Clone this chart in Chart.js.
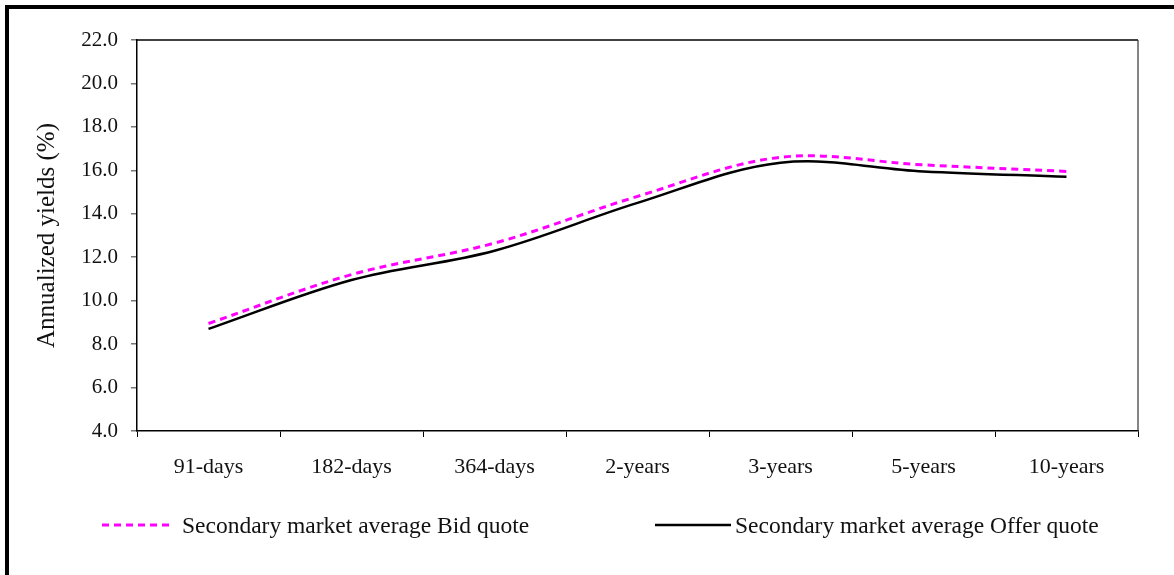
<!DOCTYPE html>
<html>
<head>
<meta charset="utf-8">
<script src="https://cdn.jsdelivr.net/npm/chart.js@4.4.1/dist/chart.umd.min.js"></script>
<style>
  html, body { margin: 0; padding: 0; background: #fff; overflow: hidden; }
  #wrap { position: absolute; left: 0; top: 0; width: 1174px; height: 575px; }
  #yieldChart { position: absolute; left: 0; top: 0; }
  .frame { position: absolute; background: #000; }
  #frameTop { left: 5px; top: 5px; width: 1169px; height: 4px; }
  #frameLeft { left: 5px; top: 5px; width: 4px; height: 570px; }
</style>
</head>
<body>
<div id="wrap">
  <canvas id="yieldChart" width="1174" height="575"></canvas>
  <div id="frameTop" class="frame"></div>
  <div id="frameLeft" class="frame"></div>
</div>
<script>
// Tenors along the curve
const tenors = ['91-days', '182-days', '364-days', '2-years', '3-years', '5-years', '10-years'];

// Annualized yields (%) by tenor
const bidYields   = [8.95, 11.2, 12.65, 14.8, 16.6, 16.25, 15.95];
const offerYields = [8.7, 10.95, 12.3, 14.5, 16.35, 15.95, 15.7];

// Series names
const seriesNames = ['Secondary market average Bid quote', 'Secondary market average Offer quote'];

// Value axis range
const yAxisMin = 4;
const yAxisMax = 22;
const yAxisStep = 2;
const yAxisTitle = 'Annualized yields (%)';

const serif = '"Liberation Serif", "Times New Roman", serif';

// Closes the plot area with top and right edges
const plotFrame = {
  id: 'plotFrame',
  beforeDatasetsDraw(chart) {
    const { ctx, chartArea: a } = chart;
    ctx.save();
    ctx.strokeStyle = '#000';
    ctx.lineWidth = 1.5;
    ctx.beginPath();
    ctx.moveTo(a.left, a.top);
    ctx.lineTo(a.right, a.top);
    ctx.stroke();
    ctx.strokeStyle = '#333';
    ctx.lineWidth = 1.2;
    ctx.beginPath();
    ctx.moveTo(a.right, a.top);
    ctx.lineTo(a.right, a.bottom);
    ctx.stroke();
    ctx.restore();
  }
};

// Legend row under the axis, with the two entries spread apart
const spreadLegend = {
  id: 'spreadLegend',
  afterDraw(chart, args, opts) {
    const { ctx } = chart;
    ctx.save();
    chart.data.datasets.forEach((ds, i) => {
      const item = opts.items[i];
      ctx.strokeStyle = ds.borderColor;
      ctx.lineWidth = ds.borderWidth;
      ctx.setLineDash(ds.borderDash || []);
      ctx.lineCap = 'butt';
      ctx.beginPath();
      ctx.moveTo(item.x, opts.y);
      ctx.lineTo(item.x + item.w, opts.y);
      ctx.stroke();
      ctx.setLineDash([]);
      ctx.fillStyle = '#111';
      ctx.font = opts.font;
      ctx.textBaseline = 'middle';
      ctx.textAlign = 'left';
      ctx.fillText(ds.label, item.x + item.w + item.gap, opts.textY);
    });
    ctx.restore();
  }
};

new Chart(document.getElementById('yieldChart'), {
  type: 'line',
  data: {
    labels: tenors,
    datasets: [
      {
        label: seriesNames[0],
        data: bidYields,
        borderColor: '#FF00FF',
        backgroundColor: '#FF00FF',
        borderWidth: 3,
        borderDash: [7, 5],
        pointRadius: 0,
        tension: 0.35,
        fill: false
      },
      {
        label: seriesNames[1],
        data: offerYields,
        borderColor: '#000',
        backgroundColor: '#000',
        borderWidth: 2.5,
        pointRadius: 0,
        tension: 0.35,
        fill: false
      }
    ]
  },
  options: {
    responsive: false,
    animation: false,
    layout: { padding: { left: 26, top: 40, right: 36, bottom: 74 } },
    plugins: {
      legend: { display: false },
      tooltip: { enabled: false },
      spreadLegend: {
        y: 525,
        textY: 527,
        font: '23.5px ' + serif,
        items: [
          { x: 102, w: 67, gap: 13 },
          { x: 655, w: 76, gap: 4 }
        ]
      }
    },
    scales: {
      x: {
        type: 'category',
        offset: true,
        grid: {
          display: true,
          offset: true,
          drawOnChartArea: false,
          drawTicks: true,
          tickLength: 6,
          color: '#000',
          lineWidth: 1
        },
        border: { display: true, color: '#000', width: 1.5 },
        ticks: {
          color: '#111',
          font: { family: serif, size: 22 },
          padding: 17,
          maxRotation: 0,
          autoSkip: false
        },
        afterFit(scale) { scale.height = 70; }
      },
      y: {
        min: yAxisMin,
        max: yAxisMax,
        grid: {
          display: true,
          drawOnChartArea: false,
          drawTicks: true,
          tickLength: 6,
          color: '#777',
          lineWidth: 1.5
        },
        border: { display: true, color: '#000', width: 1.5 },
        ticks: {
          stepSize: yAxisStep,
          color: '#111',
          font: { family: serif, size: 21 },
          padding: 13,
          callback: (v) => Number(v).toFixed(1)
        },
        title: {
          display: true,
          text: yAxisTitle,
          color: '#111',
          font: { family: serif, size: 25 },
          padding: { top: 6, bottom: 0 }
        },
        afterFit(scale) { scale.width = 111; }
      }
    }
  },
  plugins: [plotFrame, spreadLegend]
});
</script>
</body>
</html>
